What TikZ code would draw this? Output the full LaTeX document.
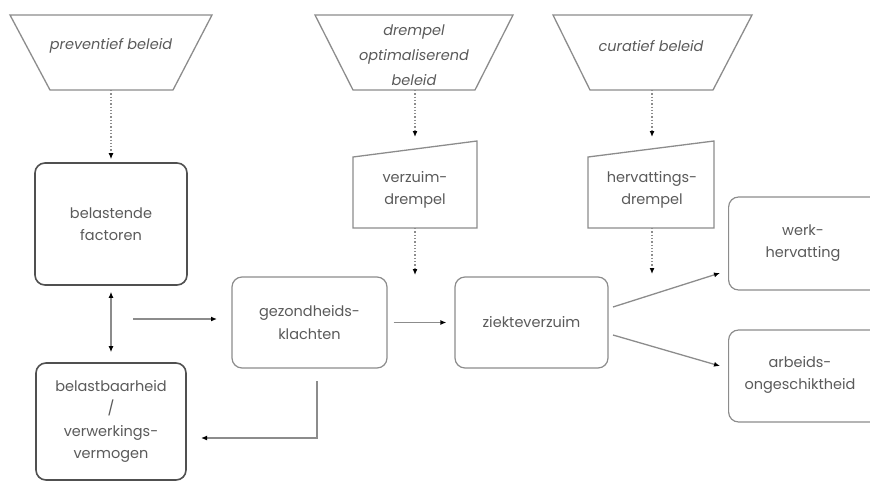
\documentclass[tikz,border=0pt]{standalone}
\usepackage{fontspec}
\setmainfont{Poppins}
\usetikzlibrary{arrows.meta}
\definecolor{txt}{HTML}{5A5A5A}
\definecolor{edge}{HTML}{8C8C8C}
\definecolor{darkedge}{HTML}{505050}
\begin{document}
\begin{tikzpicture}[x=1pt,y=-1pt,
  lbl/.style={align=center,text=txt,font=\fontsize{14.5}{22.5}\selectfont,inner sep=0pt},
  ilbl/.style={lbl,font=\fontsize{14.5}{25}\selectfont\itshape},
  rbox/.style={draw=edge,line width=1.2pt,rounded corners=10pt,lbl},
  dbox/.style={draw=darkedge,line width=1.6pt,rounded corners=10pt,lbl},
  shape edge/.style={draw=edge,line width=1.3pt},
  conn/.style={draw=edge,line width=1.3pt,-{Latex[length=6pt,width=5pt,black]}},
  dconn/.style={conn,dotted,line width=1.5pt},
]
\useasboundingbox (0,0) rectangle (870,482);
% trapezoids
\draw[shape edge] (10,15) -- (212,15) -- (173,90) -- (50,90) -- cycle;
\node[ilbl] (t1) at (111,46) {preventief beleid};
\coordinate (t1b) at (111,90);
\draw[shape edge] (315,15) -- (513,15) -- (475,90) -- (353,90) -- cycle;
\node[ilbl] (t2) at (414,55) {drempel\\optimaliserend\\beleid};
\coordinate (t2b) at (415,90);
\draw[shape edge] (553,15) -- (752,15) -- (713,90) -- (590,90) -- cycle;
\node[ilbl] (t3) at (651,46) {curatief beleid};
\coordinate (t3b) at (652,90);
% manual inputs
\draw[shape edge] (353,157) -- (477,141) -- (477,228) -- (353,228) -- cycle;
\node[lbl] (vd) at (415,190) {verzuim-\\drempel};
\coordinate (vdt) at (415,152);
\coordinate (vdb) at (415,228);
\draw[shape edge] (588,157) -- (714,141) -- (714,228) -- (588,228) -- cycle;
\node[lbl] (hd) at (652,190) {hervattings-\\drempel};
\coordinate (hdt) at (652,152);
\coordinate (hdb) at (652,228);
% boxes
\node[dbox,minimum width=152pt,minimum height=122pt] (bf) at (111,224) {belastende\\factoren};
\node[dbox,minimum width=150pt,minimum height=117pt] (bb) at (111,421.5) {belastbaarheid\\/\\verwerkings-\\vermogen};
\node[rbox,minimum width=155pt,minimum height=91pt] (gz) at (309.5,322.5) {gezondheids-\\klachten};
\node[rbox,minimum width=153pt,minimum height=91pt] (zv) at (531.5,322.5) {ziekteverzuim};
\node[rbox,minimum width=170pt,minimum height=93pt,anchor=west] (wh) at (728,243.5) {};
\node[lbl] (whl) at (803,243) {werk-\\hervatting};
\node[rbox,minimum width=170pt,minimum height=92pt,anchor=west] (ao) at (728,376) {};
\node[lbl] (aol) at (800,375) {arbeids-\\ongeschiktheid};
% connectors
\draw[dconn,shorten >=3pt] (t1b) -- (bf.north);
\draw[dconn,shorten >=15pt] (t2b) -- (vdt);
\draw[dconn,shorten >=15pt] (t3b) -- (hdt);
\coordinate (vdend) at (415,275);
\coordinate (hdend) at (652,274);
\draw[dconn] (vdb) -- (vdend);
\draw[dconn] (hdb) -- (hdend);
\draw[conn,{Latex[length=6pt,width=5pt,black]}-{Latex[length=6pt,width=5pt,black]},shorten <=6pt,shorten >=10pt] (bf.south) -- (bb.north);
\coordinate (hs) at (133,319);
\coordinate (he) at (217,319);
\draw[conn] (hs) -- (he);
\draw[conn,shorten <=6pt,shorten >=8pt] (gz.east) -- (zv.west);
\coordinate (z1) at (613,307);
\coordinate (z2) at (613,335);
\coordinate (w1) at (720,273);
\coordinate (a1) at (720,366);
\draw[conn] (z1) -- (w1);
\draw[conn] (z2) -- (a1);
\coordinate (gzs) at (317,381);
\coordinate (gzc) at (317,438);
\coordinate (bbe) at (201,438);
\draw[conn] (gzs) -- (gzc) -- (bbe);
\end{tikzpicture}
\end{document}
